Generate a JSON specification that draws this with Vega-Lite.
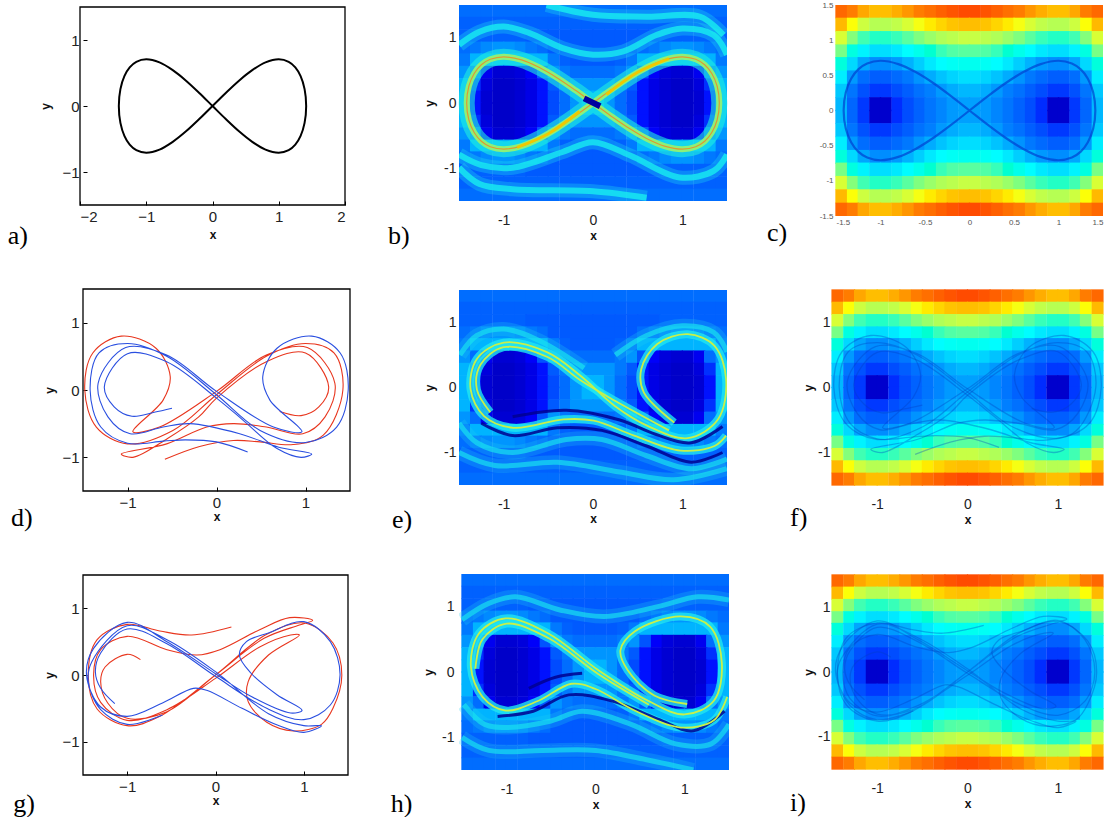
{"$schema":"https://vega.github.io/schema/vega-lite/v6.json","padding":{"left":7,"top":1,"right":0,"bottom":0},"background":"white","config":{"view":{"stroke":null},"axis":{"grid":false,"labelFont":"Liberation Sans","titleFont":"Liberation Sans","titleFontWeight":"bold","titleFontSize":12,"labelColor":"#222","titleColor":"#111"}},
"datasets":{
"grid":[
{"x":-1.44,"y":1.41,"h":0.92,"f":0.2},{"x":-1.31,"y":1.41,"h":0.86,"f":0.2},{"x":-1.19,"y":1.41,"h":0.78,"f":0.2},{"x":-1.06,"y":1.41,"h":0.74,"f":0.2},{"x":-0.94,"y":1.41,"h":0.74,"f":0.2},{"x":-0.81,"y":1.41,"h":0.77,"f":0.2},{"x":-0.69,"y":1.41,"h":0.81,"f":0.2},{"x":-0.56,"y":1.41,"h":0.86,"f":0.2},{"x":-0.44,"y":1.41,"h":0.9,"f":0.2},{"x":-0.31,"y":1.41,"h":0.94,"f":0.2},{"x":-0.19,"y":1.41,"h":0.97,"f":0.2},{"x":-0.06,"y":1.41,"h":0.99,"f":0.2},{"x":0.06,"y":1.41,"h":0.99,"f":0.2},{"x":0.19,"y":1.41,"h":0.97,"f":0.2},{"x":0.31,"y":1.41,"h":0.94,"f":0.2},{"x":0.44,"y":1.41,"h":0.9,"f":0.2},{"x":0.56,"y":1.41,"h":0.86,"f":0.2},{"x":0.69,"y":1.41,"h":0.81,"f":0.2},{"x":0.81,"y":1.41,"h":0.77,"f":0.2},{"x":0.94,"y":1.41,"h":0.74,"f":0.2},{"x":1.06,"y":1.41,"h":0.74,"f":0.2},{"x":1.19,"y":1.41,"h":0.78,"f":0.2},{"x":1.31,"y":1.41,"h":0.86,"f":0.2},{"x":1.44,"y":1.41,"h":0.92,"f":0.2},
{"x":-1.44,"y":1.22,"h":0.75,"f":0.18},{"x":-1.31,"y":1.22,"h":0.62,"f":0.18},{"x":-1.19,"y":1.22,"h":0.54,"f":0.18},{"x":-1.06,"y":1.22,"h":0.5,"f":0.18},{"x":-0.94,"y":1.22,"h":0.5,"f":0.18},{"x":-0.81,"y":1.22,"h":0.52,"f":0.18},{"x":-0.69,"y":1.22,"h":0.56,"f":0.18},{"x":-0.56,"y":1.22,"h":0.61,"f":0.18},{"x":-0.44,"y":1.22,"h":0.66,"f":0.18},{"x":-0.31,"y":1.22,"h":0.7,"f":0.18},{"x":-0.19,"y":1.22,"h":0.73,"f":0.18},{"x":-0.06,"y":1.22,"h":0.74,"f":0.18},{"x":0.06,"y":1.22,"h":0.74,"f":0.18},{"x":0.19,"y":1.22,"h":0.73,"f":0.18},{"x":0.31,"y":1.22,"h":0.7,"f":0.18},{"x":0.44,"y":1.22,"h":0.66,"f":0.18},{"x":0.56,"y":1.22,"h":0.61,"f":0.18},{"x":0.69,"y":1.22,"h":0.56,"f":0.18},{"x":0.81,"y":1.22,"h":0.52,"f":0.18},{"x":0.94,"y":1.22,"h":0.5,"f":0.18},{"x":1.06,"y":1.22,"h":0.5,"f":0.18},{"x":1.19,"y":1.22,"h":0.54,"f":0.18},{"x":1.31,"y":1.22,"h":0.62,"f":0.18},{"x":1.44,"y":1.22,"h":0.75,"f":0.18},
{"x":-1.44,"y":1.03,"h":0.56,"f":0.18},{"x":-1.31,"y":1.03,"h":0.41,"f":0.18},{"x":-1.19,"y":1.03,"h":0.32,"f":0.18},{"x":-1.06,"y":1.03,"h":0.29,"f":0.18},{"x":-0.94,"y":1.03,"h":0.29,"f":0.18},{"x":-0.81,"y":1.03,"h":0.31,"f":0.18},{"x":-0.69,"y":1.03,"h":0.35,"f":0.17},{"x":-0.56,"y":1.03,"h":0.4,"f":0.17},{"x":-0.44,"y":1.03,"h":0.45,"f":0.17},{"x":-0.31,"y":1.03,"h":0.49,"f":0.17},{"x":-0.19,"y":1.03,"h":0.51,"f":0.17},{"x":-0.06,"y":1.03,"h":0.53,"f":0.17},{"x":0.06,"y":1.03,"h":0.53,"f":0.17},{"x":0.19,"y":1.03,"h":0.51,"f":0.17},{"x":0.31,"y":1.03,"h":0.49,"f":0.17},{"x":0.44,"y":1.03,"h":0.45,"f":0.17},{"x":0.56,"y":1.03,"h":0.4,"f":0.17},{"x":0.69,"y":1.03,"h":0.35,"f":0.17},{"x":0.81,"y":1.03,"h":0.31,"f":0.18},{"x":0.94,"y":1.03,"h":0.29,"f":0.18},{"x":1.06,"y":1.03,"h":0.29,"f":0.18},{"x":1.19,"y":1.03,"h":0.32,"f":0.18},{"x":1.31,"y":1.03,"h":0.41,"f":0.18},{"x":1.44,"y":1.03,"h":0.56,"f":0.18},
{"x":-1.44,"y":0.84,"h":0.39,"f":0.2},{"x":-1.31,"y":0.84,"h":0.24,"f":0.22},{"x":-1.19,"y":0.84,"h":0.15,"f":0.24},{"x":-1.06,"y":0.84,"h":0.11,"f":0.25},{"x":-0.94,"y":0.84,"h":0.11,"f":0.25},{"x":-0.81,"y":0.84,"h":0.13,"f":0.24},{"x":-0.69,"y":0.84,"h":0.17,"f":0.22},{"x":-0.56,"y":0.84,"h":0.22,"f":0.2},{"x":-0.44,"y":0.84,"h":0.27,"f":0.17},{"x":-0.31,"y":0.84,"h":0.31,"f":0.17},{"x":-0.19,"y":0.84,"h":0.34,"f":0.17},{"x":-0.06,"y":0.84,"h":0.35,"f":0.17},{"x":0.06,"y":0.84,"h":0.35,"f":0.17},{"x":0.19,"y":0.84,"h":0.34,"f":0.17},{"x":0.31,"y":0.84,"h":0.31,"f":0.17},{"x":0.44,"y":0.84,"h":0.27,"f":0.17},{"x":0.56,"y":0.84,"h":0.22,"f":0.2},{"x":0.69,"y":0.84,"h":0.17,"f":0.22},{"x":0.81,"y":0.84,"h":0.13,"f":0.24},{"x":0.94,"y":0.84,"h":0.11,"f":0.25},{"x":1.06,"y":0.84,"h":0.11,"f":0.25},{"x":1.19,"y":0.84,"h":0.15,"f":0.24},{"x":1.31,"y":0.84,"h":0.24,"f":0.22},{"x":1.44,"y":0.84,"h":0.39,"f":0.2},
{"x":-1.44,"y":0.66,"h":0.25,"f":0.22},{"x":-1.31,"y":0.66,"h":0.1,"f":0.28},{"x":-1.19,"y":0.66,"h":0.01,"f":0.28},{"x":-1.06,"y":0.66,"h":-0.03,"f":0.28},{"x":-0.94,"y":0.66,"h":-0.03,"f":0.28},{"x":-0.81,"y":0.66,"h":-0.01,"f":0.28},{"x":-0.69,"y":0.66,"h":0.03,"f":0.28},{"x":-0.56,"y":0.66,"h":0.08,"f":0.28},{"x":-0.44,"y":0.66,"h":0.13,"f":0.22},{"x":-0.31,"y":0.66,"h":0.17,"f":0.18},{"x":-0.19,"y":0.66,"h":0.2,"f":0.17},{"x":-0.06,"y":0.66,"h":0.21,"f":0.17},{"x":0.06,"y":0.66,"h":0.21,"f":0.17},{"x":0.19,"y":0.66,"h":0.2,"f":0.17},{"x":0.31,"y":0.66,"h":0.17,"f":0.18},{"x":0.44,"y":0.66,"h":0.13,"f":0.22},{"x":0.56,"y":0.66,"h":0.08,"f":0.28},{"x":0.69,"y":0.66,"h":0.03,"f":0.28},{"x":0.81,"y":0.66,"h":-0.01,"f":0.28},{"x":0.94,"y":0.66,"h":-0.03,"f":0.28},{"x":1.06,"y":0.66,"h":-0.03,"f":0.28},{"x":1.19,"y":0.66,"h":0.01,"f":0.28},{"x":1.31,"y":0.66,"h":0.1,"f":0.28},{"x":1.44,"y":0.66,"h":0.25,"f":0.22},
{"x":-1.44,"y":0.47,"h":0.14,"f":0.25},{"x":-1.31,"y":0.47,"h":-0.01,"f":0.2},{"x":-1.19,"y":0.47,"h":-0.1,"f":0.08},{"x":-1.06,"y":0.47,"h":-0.14,"f":0.05},{"x":-0.94,"y":0.47,"h":-0.14,"f":0.05},{"x":-0.81,"y":0.47,"h":-0.11,"f":0.06},{"x":-0.69,"y":0.47,"h":-0.07,"f":0.09},{"x":-0.56,"y":0.47,"h":-0.02,"f":0.16},{"x":-0.44,"y":0.47,"h":0.02,"f":0.25},{"x":-0.31,"y":0.47,"h":0.06,"f":0.22},{"x":-0.19,"y":0.47,"h":0.09,"f":0.2},{"x":-0.06,"y":0.47,"h":0.11,"f":0.2},{"x":0.06,"y":0.47,"h":0.11,"f":0.2},{"x":0.19,"y":0.47,"h":0.09,"f":0.2},{"x":0.31,"y":0.47,"h":0.06,"f":0.22},{"x":0.44,"y":0.47,"h":0.02,"f":0.25},{"x":0.56,"y":0.47,"h":-0.02,"f":0.16},{"x":0.69,"y":0.47,"h":-0.07,"f":0.09},{"x":0.81,"y":0.47,"h":-0.11,"f":0.06},{"x":0.94,"y":0.47,"h":-0.14,"f":0.05},{"x":1.06,"y":0.47,"h":-0.14,"f":0.05},{"x":1.19,"y":0.47,"h":-0.1,"f":0.08},{"x":1.31,"y":0.47,"h":-0.01,"f":0.2},{"x":1.44,"y":0.47,"h":0.14,"f":0.25},
{"x":-1.44,"y":0.28,"h":0.07,"f":0.28},{"x":-1.31,"y":0.28,"h":-0.08,"f":0.12},{"x":-1.19,"y":0.28,"h":-0.17,"f":0.06},{"x":-1.06,"y":0.28,"h":-0.22,"f":0.04},{"x":-0.94,"y":0.28,"h":-0.22,"f":0.04},{"x":-0.81,"y":0.28,"h":-0.18,"f":0.05},{"x":-0.69,"y":0.28,"h":-0.14,"f":0.07},{"x":-0.56,"y":0.28,"h":-0.09,"f":0.1},{"x":-0.44,"y":0.28,"h":-0.05,"f":0.17},{"x":-0.31,"y":0.28,"h":-0.01,"f":0.22},{"x":-0.19,"y":0.28,"h":0.02,"f":0.25},{"x":-0.06,"y":0.28,"h":0.04,"f":0.25},{"x":0.06,"y":0.28,"h":0.04,"f":0.25},{"x":0.19,"y":0.28,"h":0.02,"f":0.25},{"x":0.31,"y":0.28,"h":-0.01,"f":0.22},{"x":0.44,"y":0.28,"h":-0.05,"f":0.17},{"x":0.56,"y":0.28,"h":-0.09,"f":0.1},{"x":0.69,"y":0.28,"h":-0.14,"f":0.07},{"x":0.81,"y":0.28,"h":-0.18,"f":0.05},{"x":0.94,"y":0.28,"h":-0.22,"f":0.04},{"x":1.06,"y":0.28,"h":-0.22,"f":0.04},{"x":1.19,"y":0.28,"h":-0.17,"f":0.06},{"x":1.31,"y":0.28,"h":-0.08,"f":0.12},{"x":1.44,"y":0.28,"h":0.07,"f":0.28},
{"x":-1.44,"y":0.09,"h":0.04,"f":0.28},{"x":-1.31,"y":0.09,"h":-0.12,"f":0.1},{"x":-1.19,"y":0.09,"h":-0.22,"f":0.05},{"x":-1.06,"y":0.09,"h":-0.36,"f":0.04},{"x":-0.94,"y":0.09,"h":-0.36,"f":0.04},{"x":-0.81,"y":0.09,"h":-0.24,"f":0.05},{"x":-0.69,"y":0.09,"h":-0.18,"f":0.07},{"x":-0.56,"y":0.09,"h":-0.13,"f":0.1},{"x":-0.44,"y":0.09,"h":-0.08,"f":0.15},{"x":-0.31,"y":0.09,"h":-0.04,"f":0.2},{"x":-0.19,"y":0.09,"h":-0.01,"f":0.25},{"x":-0.06,"y":0.09,"h":0,"f":0.28},{"x":0.06,"y":0.09,"h":0,"f":0.28},{"x":0.19,"y":0.09,"h":-0.01,"f":0.25},{"x":0.31,"y":0.09,"h":-0.04,"f":0.2},{"x":0.44,"y":0.09,"h":-0.08,"f":0.15},{"x":0.56,"y":0.09,"h":-0.13,"f":0.1},{"x":0.69,"y":0.09,"h":-0.18,"f":0.07},{"x":0.81,"y":0.09,"h":-0.24,"f":0.05},{"x":0.94,"y":0.09,"h":-0.36,"f":0.04},{"x":1.06,"y":0.09,"h":-0.36,"f":0.04},{"x":1.19,"y":0.09,"h":-0.22,"f":0.05},{"x":1.31,"y":0.09,"h":-0.12,"f":0.1},{"x":1.44,"y":0.09,"h":0.04,"f":0.28},
{"x":-1.44,"y":-0.09,"h":0.04,"f":0.28},{"x":-1.31,"y":-0.09,"h":-0.12,"f":0.1},{"x":-1.19,"y":-0.09,"h":-0.22,"f":0.05},{"x":-1.06,"y":-0.09,"h":-0.36,"f":0.04},{"x":-0.94,"y":-0.09,"h":-0.36,"f":0.04},{"x":-0.81,"y":-0.09,"h":-0.24,"f":0.05},{"x":-0.69,"y":-0.09,"h":-0.18,"f":0.07},{"x":-0.56,"y":-0.09,"h":-0.13,"f":0.1},{"x":-0.44,"y":-0.09,"h":-0.08,"f":0.15},{"x":-0.31,"y":-0.09,"h":-0.04,"f":0.2},{"x":-0.19,"y":-0.09,"h":-0.01,"f":0.25},{"x":-0.06,"y":-0.09,"h":0,"f":0.28},{"x":0.06,"y":-0.09,"h":0,"f":0.28},{"x":0.19,"y":-0.09,"h":-0.01,"f":0.25},{"x":0.31,"y":-0.09,"h":-0.04,"f":0.2},{"x":0.44,"y":-0.09,"h":-0.08,"f":0.15},{"x":0.56,"y":-0.09,"h":-0.13,"f":0.1},{"x":0.69,"y":-0.09,"h":-0.18,"f":0.07},{"x":0.81,"y":-0.09,"h":-0.24,"f":0.05},{"x":0.94,"y":-0.09,"h":-0.36,"f":0.04},{"x":1.06,"y":-0.09,"h":-0.36,"f":0.04},{"x":1.19,"y":-0.09,"h":-0.22,"f":0.05},{"x":1.31,"y":-0.09,"h":-0.12,"f":0.1},{"x":1.44,"y":-0.09,"h":0.04,"f":0.28},
{"x":-1.44,"y":-0.28,"h":0.07,"f":0.28},{"x":-1.31,"y":-0.28,"h":-0.08,"f":0.12},{"x":-1.19,"y":-0.28,"h":-0.17,"f":0.06},{"x":-1.06,"y":-0.28,"h":-0.22,"f":0.04},{"x":-0.94,"y":-0.28,"h":-0.22,"f":0.04},{"x":-0.81,"y":-0.28,"h":-0.18,"f":0.05},{"x":-0.69,"y":-0.28,"h":-0.14,"f":0.07},{"x":-0.56,"y":-0.28,"h":-0.09,"f":0.1},{"x":-0.44,"y":-0.28,"h":-0.05,"f":0.17},{"x":-0.31,"y":-0.28,"h":-0.01,"f":0.22},{"x":-0.19,"y":-0.28,"h":0.02,"f":0.25},{"x":-0.06,"y":-0.28,"h":0.04,"f":0.25},{"x":0.06,"y":-0.28,"h":0.04,"f":0.25},{"x":0.19,"y":-0.28,"h":0.02,"f":0.25},{"x":0.31,"y":-0.28,"h":-0.01,"f":0.22},{"x":0.44,"y":-0.28,"h":-0.05,"f":0.17},{"x":0.56,"y":-0.28,"h":-0.09,"f":0.1},{"x":0.69,"y":-0.28,"h":-0.14,"f":0.07},{"x":0.81,"y":-0.28,"h":-0.18,"f":0.05},{"x":0.94,"y":-0.28,"h":-0.22,"f":0.04},{"x":1.06,"y":-0.28,"h":-0.22,"f":0.04},{"x":1.19,"y":-0.28,"h":-0.17,"f":0.06},{"x":1.31,"y":-0.28,"h":-0.08,"f":0.12},{"x":1.44,"y":-0.28,"h":0.07,"f":0.28},
{"x":-1.44,"y":-0.47,"h":0.14,"f":0.25},{"x":-1.31,"y":-0.47,"h":-0.01,"f":0.2},{"x":-1.19,"y":-0.47,"h":-0.1,"f":0.08},{"x":-1.06,"y":-0.47,"h":-0.14,"f":0.05},{"x":-0.94,"y":-0.47,"h":-0.14,"f":0.05},{"x":-0.81,"y":-0.47,"h":-0.11,"f":0.06},{"x":-0.69,"y":-0.47,"h":-0.07,"f":0.09},{"x":-0.56,"y":-0.47,"h":-0.02,"f":0.16},{"x":-0.44,"y":-0.47,"h":0.02,"f":0.25},{"x":-0.31,"y":-0.47,"h":0.06,"f":0.22},{"x":-0.19,"y":-0.47,"h":0.09,"f":0.2},{"x":-0.06,"y":-0.47,"h":0.11,"f":0.2},{"x":0.06,"y":-0.47,"h":0.11,"f":0.2},{"x":0.19,"y":-0.47,"h":0.09,"f":0.2},{"x":0.31,"y":-0.47,"h":0.06,"f":0.22},{"x":0.44,"y":-0.47,"h":0.02,"f":0.25},{"x":0.56,"y":-0.47,"h":-0.02,"f":0.16},{"x":0.69,"y":-0.47,"h":-0.07,"f":0.09},{"x":0.81,"y":-0.47,"h":-0.11,"f":0.06},{"x":0.94,"y":-0.47,"h":-0.14,"f":0.05},{"x":1.06,"y":-0.47,"h":-0.14,"f":0.05},{"x":1.19,"y":-0.47,"h":-0.1,"f":0.08},{"x":1.31,"y":-0.47,"h":-0.01,"f":0.2},{"x":1.44,"y":-0.47,"h":0.14,"f":0.25},
{"x":-1.44,"y":-0.66,"h":0.25,"f":0.22},{"x":-1.31,"y":-0.66,"h":0.1,"f":0.28},{"x":-1.19,"y":-0.66,"h":0.01,"f":0.28},{"x":-1.06,"y":-0.66,"h":-0.03,"f":0.28},{"x":-0.94,"y":-0.66,"h":-0.03,"f":0.28},{"x":-0.81,"y":-0.66,"h":-0.01,"f":0.28},{"x":-0.69,"y":-0.66,"h":0.03,"f":0.28},{"x":-0.56,"y":-0.66,"h":0.08,"f":0.28},{"x":-0.44,"y":-0.66,"h":0.13,"f":0.22},{"x":-0.31,"y":-0.66,"h":0.17,"f":0.18},{"x":-0.19,"y":-0.66,"h":0.2,"f":0.17},{"x":-0.06,"y":-0.66,"h":0.21,"f":0.17},{"x":0.06,"y":-0.66,"h":0.21,"f":0.17},{"x":0.19,"y":-0.66,"h":0.2,"f":0.17},{"x":0.31,"y":-0.66,"h":0.17,"f":0.18},{"x":0.44,"y":-0.66,"h":0.13,"f":0.22},{"x":0.56,"y":-0.66,"h":0.08,"f":0.28},{"x":0.69,"y":-0.66,"h":0.03,"f":0.28},{"x":0.81,"y":-0.66,"h":-0.01,"f":0.28},{"x":0.94,"y":-0.66,"h":-0.03,"f":0.28},{"x":1.06,"y":-0.66,"h":-0.03,"f":0.28},{"x":1.19,"y":-0.66,"h":0.01,"f":0.28},{"x":1.31,"y":-0.66,"h":0.1,"f":0.28},{"x":1.44,"y":-0.66,"h":0.25,"f":0.22},
{"x":-1.44,"y":-0.84,"h":0.39,"f":0.2},{"x":-1.31,"y":-0.84,"h":0.24,"f":0.22},{"x":-1.19,"y":-0.84,"h":0.15,"f":0.24},{"x":-1.06,"y":-0.84,"h":0.11,"f":0.25},{"x":-0.94,"y":-0.84,"h":0.11,"f":0.25},{"x":-0.81,"y":-0.84,"h":0.13,"f":0.24},{"x":-0.69,"y":-0.84,"h":0.17,"f":0.22},{"x":-0.56,"y":-0.84,"h":0.22,"f":0.2},{"x":-0.44,"y":-0.84,"h":0.27,"f":0.17},{"x":-0.31,"y":-0.84,"h":0.31,"f":0.17},{"x":-0.19,"y":-0.84,"h":0.34,"f":0.17},{"x":-0.06,"y":-0.84,"h":0.35,"f":0.17},{"x":0.06,"y":-0.84,"h":0.35,"f":0.17},{"x":0.19,"y":-0.84,"h":0.34,"f":0.17},{"x":0.31,"y":-0.84,"h":0.31,"f":0.17},{"x":0.44,"y":-0.84,"h":0.27,"f":0.17},{"x":0.56,"y":-0.84,"h":0.22,"f":0.2},{"x":0.69,"y":-0.84,"h":0.17,"f":0.22},{"x":0.81,"y":-0.84,"h":0.13,"f":0.24},{"x":0.94,"y":-0.84,"h":0.11,"f":0.25},{"x":1.06,"y":-0.84,"h":0.11,"f":0.25},{"x":1.19,"y":-0.84,"h":0.15,"f":0.24},{"x":1.31,"y":-0.84,"h":0.24,"f":0.22},{"x":1.44,"y":-0.84,"h":0.39,"f":0.2},
{"x":-1.44,"y":-1.03,"h":0.56,"f":0.18},{"x":-1.31,"y":-1.03,"h":0.41,"f":0.18},{"x":-1.19,"y":-1.03,"h":0.32,"f":0.18},{"x":-1.06,"y":-1.03,"h":0.29,"f":0.18},{"x":-0.94,"y":-1.03,"h":0.29,"f":0.18},{"x":-0.81,"y":-1.03,"h":0.31,"f":0.18},{"x":-0.69,"y":-1.03,"h":0.35,"f":0.17},{"x":-0.56,"y":-1.03,"h":0.4,"f":0.17},{"x":-0.44,"y":-1.03,"h":0.45,"f":0.17},{"x":-0.31,"y":-1.03,"h":0.49,"f":0.17},{"x":-0.19,"y":-1.03,"h":0.51,"f":0.17},{"x":-0.06,"y":-1.03,"h":0.53,"f":0.17},{"x":0.06,"y":-1.03,"h":0.53,"f":0.17},{"x":0.19,"y":-1.03,"h":0.51,"f":0.17},{"x":0.31,"y":-1.03,"h":0.49,"f":0.17},{"x":0.44,"y":-1.03,"h":0.45,"f":0.17},{"x":0.56,"y":-1.03,"h":0.4,"f":0.17},{"x":0.69,"y":-1.03,"h":0.35,"f":0.17},{"x":0.81,"y":-1.03,"h":0.31,"f":0.18},{"x":0.94,"y":-1.03,"h":0.29,"f":0.18},{"x":1.06,"y":-1.03,"h":0.29,"f":0.18},{"x":1.19,"y":-1.03,"h":0.32,"f":0.18},{"x":1.31,"y":-1.03,"h":0.41,"f":0.18},{"x":1.44,"y":-1.03,"h":0.56,"f":0.18},
{"x":-1.44,"y":-1.22,"h":0.75,"f":0.18},{"x":-1.31,"y":-1.22,"h":0.62,"f":0.18},{"x":-1.19,"y":-1.22,"h":0.54,"f":0.18},{"x":-1.06,"y":-1.22,"h":0.5,"f":0.18},{"x":-0.94,"y":-1.22,"h":0.5,"f":0.18},{"x":-0.81,"y":-1.22,"h":0.52,"f":0.18},{"x":-0.69,"y":-1.22,"h":0.56,"f":0.18},{"x":-0.56,"y":-1.22,"h":0.61,"f":0.18},{"x":-0.44,"y":-1.22,"h":0.66,"f":0.18},{"x":-0.31,"y":-1.22,"h":0.7,"f":0.18},{"x":-0.19,"y":-1.22,"h":0.73,"f":0.18},{"x":-0.06,"y":-1.22,"h":0.74,"f":0.18},{"x":0.06,"y":-1.22,"h":0.74,"f":0.18},{"x":0.19,"y":-1.22,"h":0.73,"f":0.18},{"x":0.31,"y":-1.22,"h":0.7,"f":0.18},{"x":0.44,"y":-1.22,"h":0.66,"f":0.18},{"x":0.56,"y":-1.22,"h":0.61,"f":0.18},{"x":0.69,"y":-1.22,"h":0.56,"f":0.18},{"x":0.81,"y":-1.22,"h":0.52,"f":0.18},{"x":0.94,"y":-1.22,"h":0.5,"f":0.18},{"x":1.06,"y":-1.22,"h":0.5,"f":0.18},{"x":1.19,"y":-1.22,"h":0.54,"f":0.18},{"x":1.31,"y":-1.22,"h":0.62,"f":0.18},{"x":1.44,"y":-1.22,"h":0.75,"f":0.18},
{"x":-1.44,"y":-1.41,"h":0.92,"f":0.2},{"x":-1.31,"y":-1.41,"h":0.86,"f":0.2},{"x":-1.19,"y":-1.41,"h":0.78,"f":0.2},{"x":-1.06,"y":-1.41,"h":0.74,"f":0.2},{"x":-0.94,"y":-1.41,"h":0.74,"f":0.2},{"x":-0.81,"y":-1.41,"h":0.77,"f":0.2},{"x":-0.69,"y":-1.41,"h":0.81,"f":0.2},{"x":-0.56,"y":-1.41,"h":0.86,"f":0.2},{"x":-0.44,"y":-1.41,"h":0.9,"f":0.2},{"x":-0.31,"y":-1.41,"h":0.94,"f":0.2},{"x":-0.19,"y":-1.41,"h":0.97,"f":0.2},{"x":-0.06,"y":-1.41,"h":0.99,"f":0.2},{"x":0.06,"y":-1.41,"h":0.99,"f":0.2},{"x":0.19,"y":-1.41,"h":0.97,"f":0.2},{"x":0.31,"y":-1.41,"h":0.94,"f":0.2},{"x":0.44,"y":-1.41,"h":0.9,"f":0.2},{"x":0.56,"y":-1.41,"h":0.86,"f":0.2},{"x":0.69,"y":-1.41,"h":0.81,"f":0.2},{"x":0.81,"y":-1.41,"h":0.77,"f":0.2},{"x":0.94,"y":-1.41,"h":0.74,"f":0.2},{"x":1.06,"y":-1.41,"h":0.74,"f":0.2},{"x":1.19,"y":-1.41,"h":0.78,"f":0.2},{"x":1.31,"y":-1.41,"h":0.86,"f":0.2},{"x":1.44,"y":-1.41,"h":0.92,"f":0.2}],
"eight":[{"x":0,"y":0},{"x":0.2,"y":0.198},{"x":0.4,"y":0.384},{"x":0.6,"y":0.543},{"x":0.8,"y":0.66},{"x":1,"y":0.707},{"x":1.15,"y":0.669},{"x":1.25,"y":0.585},{"x":1.33,"y":0.452},{"x":1.39,"y":0.256},{"x":1.414,"y":0},{"x":1.39,"y":-0.256},{"x":1.33,"y":-0.452},{"x":1.25,"y":-0.585},{"x":1.15,"y":-0.669},{"x":1,"y":-0.707},{"x":0.8,"y":-0.66},{"x":0.6,"y":-0.543},{"x":0.4,"y":-0.384},{"x":0.2,"y":-0.198},{"x":0,"y":0},{"x":-0.2,"y":0.198},{"x":-0.4,"y":0.384},{"x":-0.6,"y":0.543},{"x":-0.8,"y":0.66},{"x":-1,"y":0.707},{"x":-1.15,"y":0.669},{"x":-1.25,"y":0.585},{"x":-1.33,"y":0.452},{"x":-1.39,"y":0.256},{"x":-1.414,"y":0},{"x":-1.39,"y":-0.256},{"x":-1.33,"y":-0.452},{"x":-1.25,"y":-0.585},{"x":-1.15,"y":-0.669},{"x":-1,"y":-0.707},{"x":-0.8,"y":-0.66},{"x":-0.6,"y":-0.543},{"x":-0.4,"y":-0.384},{"x":-0.2,"y":-0.198},{"x":0,"y":0}],
"dr":[{"x":-0.58,"y":-1.03},{"x":-0.19,"y":-0.84},{"x":0.19,"y":-0.75},{"x":0.49,"y":-0.77},{"x":0.86,"y":-0.81},{"x":1.2,"y":-0.67},{"x":1.42,"y":0},{"x":1.32,"y":0.55},{"x":1,"y":0.69},{"x":0.56,"y":0.5},{"x":0,"y":-0.07},{"x":-0.49,"y":-0.6},{"x":-1,"y":-0.8},{"x":-1.35,"y":-0.55},{"x":-1.48,"y":0},{"x":-1.39,"y":0.55},{"x":-1.07,"y":0.8},{"x":-0.68,"y":0.62},{"x":-0.52,"y":0.2},{"x":-0.6,"y":-0.15},{"x":-0.94,"y":-0.62},{"x":-0.64,"y":-0.55},{"x":0,"y":-0.02},{"x":0.56,"y":0.52},{"x":1.02,"y":0.63},{"x":1.33,"y":0.1},{"x":1.22,"y":-0.4},{"x":0.97,"y":-0.65},{"x":0.56,"y":-0.55},{"x":0.19,"y":-0.5},{"x":-0.11,"y":-0.55},{"x":-0.56,"y":-0.8},{"x":-1.07,"y":-0.95},{"x":-0.94,"y":-1},{"x":-0.55,"y":-0.72},{"x":-0.2,"y":-0.4},{"x":0,"y":-0.12},{"x":0.56,"y":0.42},{"x":1,"y":0.55},{"x":1.26,"y":0.05},{"x":1.15,"y":-0.25},{"x":0.95,"y":-0.38},{"x":0.71,"y":-0.32}],
"db":[{"x":0.35,"y":-0.92},{"x":0,"y":-0.77},{"x":-0.35,"y":-0.74},{"x":-0.6,"y":-0.76},{"x":-1,"y":-0.79},{"x":-1.3,"y":-0.55},{"x":-1.42,"y":0},{"x":-1.32,"y":0.55},{"x":-1,"y":0.69},{"x":-0.56,"y":0.5},{"x":0,"y":-0.07},{"x":0.49,"y":-0.6},{"x":1,"y":-0.78},{"x":1.35,"y":-0.55},{"x":1.48,"y":0},{"x":1.39,"y":0.55},{"x":1.07,"y":0.8},{"x":0.68,"y":0.62},{"x":0.52,"y":0.2},{"x":0.6,"y":-0.15},{"x":0.96,"y":-0.62},{"x":0.64,"y":-0.55},{"x":0,"y":-0.02},{"x":-0.56,"y":0.52},{"x":-1.02,"y":0.63},{"x":-1.33,"y":0.1},{"x":-1.22,"y":-0.4},{"x":-0.97,"y":-0.65},{"x":-0.6,"y":-0.55},{"x":-0.3,"y":-0.5},{"x":0.26,"y":-0.65},{"x":0.7,"y":-0.85},{"x":1.07,"y":-0.95},{"x":0.95,"y":-1},{"x":0.68,"y":-0.87},{"x":0.3,"y":-0.45},{"x":0,"y":-0.12},{"x":-0.56,"y":0.42},{"x":-1,"y":0.54},{"x":-1.26,"y":0.05},{"x":-1.15,"y":-0.25},{"x":-0.95,"y":-0.39},{"x":-0.7,"y":-0.33},{"x":-0.5,"y":-0.27}],
"gr":[{"x":0.18,"y":0.72},{"x":-0.27,"y":0.6},{"x":-0.63,"y":0.66},{"x":-1,"y":0.76},{"x":-1.34,"y":0.53},{"x":-1.44,"y":-0.02},{"x":-1.34,"y":-0.51},{"x":-1,"y":-0.76},{"x":-0.63,"y":-0.62},{"x":0,"y":0},{"x":0.58,"y":0.61},{"x":1.01,"y":0.78},{"x":1.33,"y":0.48},{"x":1.43,"y":0},{"x":1.33,"y":-0.5},{"x":1.2,"y":-0.74},{"x":0.88,"y":-0.84},{"x":0.58,"y":-0.71},{"x":0.37,"y":-0.4},{"x":0.37,"y":-0.1},{"x":0.6,"y":0.3},{"x":0.95,"y":0.6},{"x":0.85,"y":0.6},{"x":0.5,"y":0.42},{"x":0,"y":-0.05},{"x":-0.55,"y":-0.52},{"x":-1,"y":-0.68},{"x":-1.3,"y":-0.41},{"x":-1.38,"y":0},{"x":-1.3,"y":0.38},{"x":-1,"y":0.58},{"x":-0.55,"y":0.38},{"x":-0.21,"y":0.3},{"x":0.05,"y":0.38},{"x":0.5,"y":0.68},{"x":0.84,"y":0.86},{"x":1.1,"y":0.82},{"x":0.95,"y":0.75},{"x":0.55,"y":0.55},{"x":0,"y":0},{"x":-0.55,"y":-0.55},{"x":-1,"y":-0.65},{"x":-1.22,"y":-0.42},{"x":-1.3,"y":-0.1},{"x":-1.25,"y":0.12},{"x":-1,"y":0.31},{"x":-0.85,"y":0.23}],
"gb":[{"x":-1.14,"y":-0.43},{"x":-1.3,"y":-0.2},{"x":-1.36,"y":0.05},{"x":-1.3,"y":0.33},{"x":-1,"y":0.69},{"x":-0.55,"y":0.47},{"x":0,"y":-0.02},{"x":0.58,"y":-0.5},{"x":1,"y":-0.67},{"x":1.3,"y":-0.45},{"x":1.41,"y":0},{"x":1.3,"y":0.5},{"x":1,"y":0.8},{"x":0.6,"y":0.63},{"x":0.35,"y":0.5},{"x":0.27,"y":0.3},{"x":0.4,"y":0.03},{"x":0.7,"y":-0.3},{"x":0.98,"y":-0.53},{"x":0.85,"y":-0.57},{"x":0.4,"y":-0.32},{"x":0,"y":0.02},{"x":-0.55,"y":0.5},{"x":-1,"y":0.79},{"x":-1.38,"y":0.4},{"x":-1.46,"y":0},{"x":-1.3,"y":-0.48},{"x":-1,"y":-0.62},{"x":-0.6,"y":-0.42},{"x":-0.25,"y":-0.2},{"x":-0.1,"y":-0.23},{"x":0.3,"y":-0.5},{"x":0.7,"y":-0.75},{"x":1,"y":-0.86},{"x":1.2,"y":-0.76},{"x":1,"y":-0.76},{"x":0.6,"y":-0.58},{"x":0,"y":0.05},{"x":-0.55,"y":0.53},{"x":-1,"y":0.74},{"x":-1.4,"y":0.2},{"x":-1.44,"y":-0.1},{"x":-1.3,"y":-0.52},{"x":-1,"y":-0.74},{"x":-0.6,"y":-0.6}],
"bb":[{"s":1,"x":-1.5,"y":0.89},{"s":1,"x":-1.27,"y":1.09},{"s":1,"x":-1,"y":1.17},{"s":1,"x":-0.71,"y":1.07},{"s":1,"x":-0.34,"y":0.84},{"s":1,"x":0,"y":0.74},{"s":1,"x":0.34,"y":0.79},{"s":1,"x":0.71,"y":1.04},{"s":1,"x":1,"y":1.14},{"s":1,"x":1.35,"y":1.04},{"s":1,"x":1.5,"y":0.74},
{"s":2,"x":-0.52,"y":1.5},{"s":2,"x":0,"y":1.35},{"s":2,"x":0.6,"y":1.32},{"s":2,"x":1.2,"y":1.32},{"s":2,"x":1.46,"y":1.04},
{"s":3,"x":-1.5,"y":-0.79},{"s":3,"x":-1.25,"y":-0.95},{"s":3,"x":-0.9,"y":-0.99},{"s":3,"x":-0.34,"y":-0.75},{"s":3,"x":0,"y":-0.6},{"s":3,"x":0.41,"y":-0.8},{"s":3,"x":0.97,"y":-1.14},{"s":3,"x":1.35,"y":-1.04},{"s":3,"x":1.5,"y":-0.79},
{"s":4,"x":-1.5,"y":-0.99},{"s":4,"x":-1.27,"y":-1.24},{"s":4,"x":-0.9,"y":-1.32},{"s":4,"x":0,"y":-1.35},{"s":4,"x":0.6,"y":-1.45}],
"by":[{"s":1,"x":0.15,"y":0.13},{"s":1,"x":0.5,"y":0.47},{"s":1,"x":0.85,"y":0.68},{"s":2,"x":-0.15,"y":-0.13},{"s":2,"x":-0.5,"y":-0.47},{"s":2,"x":-0.85,"y":-0.68}],
"bd":[{"x":-0.1,"y":0.07},{"x":0.08,"y":-0.05}],
"eb":[{"s":1,"x":-1.49,"y":0.5},{"s":1,"x":-1.3,"y":0.8},{"s":1,"x":-1,"y":0.9},{"s":1,"x":-0.6,"y":0.72},{"s":1,"x":-0.1,"y":0.3},{"s":2,"x":0.25,"y":0.5},{"s":2,"x":0.6,"y":0.8},{"s":2,"x":1,"y":0.95},{"s":2,"x":1.35,"y":0.85},{"s":2,"x":1.5,"y":0.55},{"s":3,"x":-1.5,"y":-0.55},{"s":3,"x":-1.3,"y":-0.85},{"s":3,"x":-0.9,"y":-1},{"s":3,"x":-0.3,"y":-0.8},{"s":3,"x":0.1,"y":-0.8},{"s":3,"x":0.6,"y":-1.05},{"s":3,"x":1.1,"y":-1.25},{"s":3,"x":1.5,"y":-1.1},{"s":4,"x":-1.5,"y":-1},{"s":4,"x":-1.1,"y":-1.2},{"s":4,"x":-0.4,"y":-1.15},{"s":4,"x":0.3,"y":-1.3},{"s":4,"x":0.9,"y":-1.42},{"s":4,"x":1.5,"y":-1.25}],
"er":[{"s":1,"x":0.91,"y":-0.54},{"s":1,"x":0.57,"y":-0.08},{"s":1,"x":0.54,"y":0.28},{"s":1,"x":0.72,"y":0.67},{"s":1,"x":1.06,"y":0.82},{"s":1,"x":1.36,"y":0.64},{"s":1,"x":1.49,"y":0.13},{"s":1,"x":1.4,"y":-0.49},{"s":1,"x":1.06,"y":-0.78},{"s":1,"x":0.61,"y":-0.59},{"s":1,"x":0.24,"y":-0.28},{"s":1,"x":-0.14,"y":0.18},{"s":1,"x":-0.51,"y":0.54},{"s":1,"x":-1,"y":0.69},{"s":1,"x":-1.3,"y":0.44},{"s":1,"x":-1.37,"y":-0.03},{"s":1,"x":-1.22,"y":-0.44},{"s":1,"x":-0.89,"y":-0.62},{"s":1,"x":-0.33,"y":-0.49},{"s":1,"x":0.01,"y":-0.51},{"s":1,"x":0.46,"y":-0.74},{"s":1,"x":0.98,"y":-0.97},{"s":1,"x":1.36,"y":-0.9},{"s":1,"x":1.49,"y":-0.74},
{"s":2,"x":0.85,"y":-0.66},{"s":2,"x":0.24,"y":-0.2},{"s":2,"x":-0.14,"y":0.11},{"s":2,"x":-0.51,"y":0.47},{"s":2,"x":-1,"y":0.62},{"s":2,"x":-1.26,"y":0.35},{"s":2,"x":-1.3,"y":-0.03},{"s":2,"x":-1.15,"y":-0.38}],
"ed":[{"s":1,"x":-1.25,"y":-0.55},{"s":1,"x":-0.9,"y":-0.74},{"s":1,"x":-0.4,"y":-0.62},{"s":1,"x":0.1,"y":-0.66},{"s":1,"x":0.6,"y":-0.9},{"s":1,"x":1.1,"y":-1.15},{"s":1,"x":1.45,"y":-1},{"s":2,"x":-0.9,"y":-0.45},{"s":2,"x":-0.3,"y":-0.35},{"s":2,"x":0.3,"y":-0.5},{"s":2,"x":0.7,"y":-0.72},{"s":2,"x":1.1,"y":-0.85},{"s":2,"x":1.45,"y":-0.6}],
"hb":[{"s":1,"x":-1.5,"y":0.8},{"s":1,"x":-1.2,"y":1.05},{"s":1,"x":-0.9,"y":1.15},{"s":1,"x":-0.4,"y":0.95},{"s":1,"x":0.1,"y":0.85},{"s":1,"x":0.7,"y":1},{"s":1,"x":1.15,"y":1.15},{"s":1,"x":1.5,"y":1.1},{"s":2,"x":-1.48,"y":-0.5},{"s":2,"x":-1.25,"y":-0.8},{"s":2,"x":-1,"y":-0.85},{"s":2,"x":-0.5,"y":-0.75},{"s":2,"x":-0.15,"y":-0.6},{"s":2,"x":0.4,"y":-0.8},{"s":2,"x":0.9,"y":-1.1},{"s":2,"x":1.3,"y":-1.1},{"s":2,"x":1.5,"y":-0.8},{"s":3,"x":-1.5,"y":-1},{"s":3,"x":-1.2,"y":-1.2},{"s":3,"x":-0.6,"y":-1.2},{"s":3,"x":0,"y":-1.2},{"s":3,"x":0.6,"y":-1.35},{"s":3,"x":1.1,"y":-1.5}],
"hr":[{"s":1,"x":1.03,"y":-0.49},{"s":1,"x":0.66,"y":-0.36},{"s":1,"x":0.36,"y":0.03},{"s":1,"x":0.28,"y":0.33},{"s":1,"x":0.44,"y":0.62},{"s":1,"x":0.96,"y":0.85},{"s":1,"x":1.29,"y":0.69},{"s":1,"x":1.42,"y":0.13},{"s":1,"x":1.33,"y":-0.44},{"s":1,"x":1,"y":-0.65},{"s":1,"x":0.59,"y":-0.44},{"s":1,"x":0.03,"y":0.03},{"s":1,"x":-0.53,"y":0.59},{"s":1,"x":-1.01,"y":0.82},{"s":1,"x":-1.31,"y":0.59},{"s":1,"x":-1.4,"y":0.08},{"s":1,"x":-1.27,"y":-0.38},{"s":1,"x":-1.01,"y":-0.59},{"s":1,"x":-0.64,"y":-0.44},{"s":1,"x":-0.27,"y":-0.18},{"s":1,"x":0,"y":-0.26},{"s":1,"x":0.44,"y":-0.59},{"s":1,"x":0.96,"y":-0.85},{"s":1,"x":1.33,"y":-0.74},{"s":1,"x":1.48,"y":-0.38},{"s":2,"x":-1.35,"y":0.05},{"s":2,"x":-1.27,"y":0.5},{"s":2,"x":-1,"y":0.74},{"s":2,"x":-0.53,"y":0.52},{"s":2,"x":0.03,"y":-0.03},{"s":2,"x":0.6,"y":-0.5}],
"hd":[{"s":1,"x":-1.1,"y":-0.68},{"s":1,"x":-0.7,"y":-0.6},{"s":1,"x":-0.3,"y":-0.35},{"s":1,"x":0.2,"y":-0.45},{"s":1,"x":0.7,"y":-0.72},{"s":1,"x":1.1,"y":-0.9},{"s":1,"x":1.45,"y":-0.6},{"s":2,"x":-0.75,"y":-0.25},{"s":2,"x":-0.45,"y":-0.08},{"s":2,"x":-0.15,"y":-0.02}]
},
"hconcat":[
{"vconcat":[
{"width":267,"height":200,"encoding":{"x":{"field":"x","type":"quantitative","title":"x","scale":{"domain":[-2,2],"range":[-3,262]},"axis":{"values":[-2,-1,0,1,2],"domain":false,"tickSize":-4,"labelPadding":8,"labelFontSize":15,"tickColor":"#000","titlePadding":5}},"y":{"field":"y","type":"quantitative","title":"y","scale":{"domain":[-1.5,1.5],"range":[200,2]},"axis":{"values":[-1,0,1],"domain":false,"tickSize":-4,"labelPadding":8,"labelFontSize":15,"tickColor":"#000","titlePadding":9}}},
"layer":[{"data":{"values":[{"x":-2,"y":-1.5,"x2":2,"y2":1.5}]},"mark":{"type":"rect","fillOpacity":0,"stroke":"#000","strokeWidth":1.3},"encoding":{"x2":{"field":"x2"},"y2":{"field":"y2"}}},{"data":{"name":"eight"},"mark":{"type":"line","stroke":"#000","strokeWidth":2,"interpolate":"catmull-rom"},"encoding":{"order":{"value":null}}},{"data":{"values":[{"x":-3.09,"y":-1.97,"t":"a)"}]},"mark":{"type":"text","align":"left","baseline":"middle","font":"Liberation Serif","fontSize":26},"encoding":{"text":{"field":"t"}}}]},
{"width":267,"height":202,"encoding":{"x":{"field":"x","type":"quantitative","title":"x","scale":{"domain":[-1.5,1.5],"range":[0,267]},"axis":{"values":[-1,0,1],"domain":false,"tickSize":-4,"labelPadding":8,"labelFontSize":15,"tickColor":"#000","titlePadding":1}},"y":{"field":"y","type":"quantitative","title":"y","scale":{"domain":[-1.5,1.5],"range":[202,0]},"axis":{"values":[-1,0,1],"domain":false,"tickSize":-4,"labelPadding":8,"labelFontSize":15,"tickColor":"#000","titlePadding":5}}},
"layer":[{"data":{"values":[{"x":-1.5,"y":-1.5,"x2":1.5,"y2":1.5}]},"mark":{"type":"rect","fillOpacity":0,"stroke":"#000","strokeWidth":1.3},"encoding":{"x2":{"field":"x2"},"y2":{"field":"y2"}}},{"data":{"name":"dr"},"mark":{"type":"line","stroke":"#e8361e","strokeWidth":1.1,"interpolate":"catmull-rom"},"encoding":{"order":{"value":null}}},{"data":{"name":"db"},"mark":{"type":"line","stroke":"#2a4fe0","strokeWidth":1.1,"interpolate":"catmull-rom"},"encoding":{"order":{"value":null}}},{"data":{"values":[{"x":-2.31,"y":-1.9,"t":"d)"}]},"mark":{"type":"text","align":"left","baseline":"middle","font":"Liberation Serif","fontSize":26},"encoding":{"text":{"field":"t"}}}]},
{"width":267,"height":200,"encoding":{"x":{"field":"x","type":"quantitative","title":"x","scale":{"domain":[-1.5,1.5],"range":[0,265]},"axis":{"values":[-1,0,1],"domain":false,"tickSize":-4,"labelPadding":8,"labelFontSize":15,"tickColor":"#000","titlePadding":1}},"y":{"field":"y","type":"quantitative","title":"y","scale":{"domain":[-1.5,1.5],"range":[200,0]},"axis":{"values":[-1,0,1],"domain":false,"tickSize":-4,"labelPadding":8,"labelFontSize":15,"tickColor":"#000","titlePadding":5}}},
"layer":[{"data":{"values":[{"x":-1.5,"y":-1.5,"x2":1.5,"y2":1.5}]},"mark":{"type":"rect","fillOpacity":0,"stroke":"#000","strokeWidth":1.3},"encoding":{"x2":{"field":"x2"},"y2":{"field":"y2"}}},{"data":{"name":"gr"},"mark":{"type":"line","stroke":"#e8361e","strokeWidth":1.1,"interpolate":"catmull-rom"},"encoding":{"order":{"value":null}}},{"data":{"name":"gb"},"mark":{"type":"line","stroke":"#2a4fe0","strokeWidth":1.1,"interpolate":"catmull-rom"},"encoding":{"order":{"value":null}}},{"data":{"values":[{"x":-2.29,"y":-1.93,"t":"g)"}]},"mark":{"type":"text","align":"left","baseline":"middle","font":"Liberation Serif","fontSize":26},"encoding":{"text":{"field":"t"}}}]}
],"bounds":"flush","spacing":84},
{"vconcat":[
{"width":268,"height":196,"encoding":{"x":{"field":"x","type":"quantitative","title":"x","scale":{"domain":[-1.5,1.5],"range":[0,268]},"axis":{"values":[-1,0,1],"domain":false,"ticks":false,"labelPadding":12,"labelFontSize":14,"labelExpr":"replace(datum.label,'−','-')","titlePadding":3}},"y":{"field":"y","type":"quantitative","title":"y","scale":{"domain":[-1.5,1.5],"range":[196,0]},"axis":{"values":[-1,0,1],"domain":false,"ticks":false,"labelPadding":3,"labelFontSize":14,"labelExpr":"replace(datum.label,'−','-')","titlePadding":7}}},
"layer":[{"data":{"name":"grid"},"mark":{"type":"rect","width":12,"height":13,"clip":true},"encoding":{"fill":{"field":"f","type":"quantitative","legend":null,"scale":{"domain":[-0.04,0.1,0.25,0.375,0.5,0.625,0.75,0.875,1],"range":["#00007f","#0000ff","#007fff","#00ffff","#7fff7f","#ffff00","#ff7f00","#ff0000","#7f0000"]}}}},
{"data":{"name":"bb"},"mark":{"type":"line","stroke":"#20e6f0","strokeWidth":14,"opacity":0.3,"interpolate":"catmull-rom","clip":true},"encoding":{"detail":{"field":"s"},"order":{"value":null}}},
{"data":{"name":"bb"},"mark":{"type":"line","stroke":"#18eef0","strokeWidth":6,"opacity":0.8,"interpolate":"catmull-rom","clip":true},"encoding":{"detail":{"field":"s"},"order":{"value":null}}},
{"data":{"name":"eight"},"mark":{"type":"line","stroke":"#20eee0","strokeWidth":16,"opacity":0.6,"interpolate":"catmull-rom"},"encoding":{"order":{"value":null}}},
{"data":{"name":"eight"},"mark":{"type":"line","stroke":"#8cf07a","strokeWidth":6,"interpolate":"catmull-rom"},"encoding":{"order":{"value":null}}},
{"data":{"name":"eight"},"mark":{"type":"line","stroke":"#e09a30","strokeWidth":1.2,"interpolate":"catmull-rom"},"encoding":{"order":{"value":null}}},
{"data":{"name":"by"},"mark":{"type":"line","stroke":"#f0c800","strokeWidth":3,"interpolate":"catmull-rom"},"encoding":{"detail":{"field":"s"},"order":{"value":null}}},
{"data":{"name":"bd"},"mark":{"type":"line","stroke":"#0000a0","strokeWidth":6},"encoding":{"order":{"value":null}}},
{"data":{"values":[{"x":-2.295,"y":-2.036,"t":"b)"}]},"mark":{"type":"text","align":"left","baseline":"middle","font":"Liberation Serif","fontSize":26},"encoding":{"text":{"field":"t"}}}]},
{"width":268,"height":195,"encoding":{"x":{"field":"x","type":"quantitative","title":"x","scale":{"domain":[-1.5,1.5],"range":[0,268]},"axis":{"values":[-1,0,1],"domain":false,"ticks":false,"labelPadding":12,"labelFontSize":14,"labelExpr":"replace(datum.label,'−','-')","titlePadding":2}},"y":{"field":"y","type":"quantitative","title":"y","scale":{"domain":[-1.5,1.5],"range":[195,0]},"axis":{"values":[-1,0,1],"domain":false,"ticks":false,"labelPadding":3,"labelFontSize":14,"labelExpr":"replace(datum.label,'−','-')","titlePadding":7}}},
"layer":[{"data":{"name":"grid"},"mark":{"type":"rect","width":12,"height":13,"clip":true},"encoding":{"fill":{"field":"f","type":"quantitative","legend":null,"scale":{"domain":[-0.02,0.13,0.29,0.415,0.54,0.665,0.79,0.915,1.04],"range":["#00007f","#0000ff","#007fff","#00ffff","#7fff7f","#ffff00","#ff7f00","#ff0000","#7f0000"]}}}},
{"data":{"name":"eb"},"mark":{"type":"line","stroke":"#20d0f0","strokeWidth":14,"opacity":0.25,"interpolate":"catmull-rom","clip":true},"encoding":{"detail":{"field":"s"},"order":{"value":null}}},
{"data":{"name":"eb"},"mark":{"type":"line","stroke":"#18e0f0","strokeWidth":5,"opacity":0.7,"interpolate":"catmull-rom","clip":true},"encoding":{"detail":{"field":"s"},"order":{"value":null}}},
{"data":{"name":"er"},"mark":{"type":"line","stroke":"#20e6f0","strokeWidth":8,"opacity":0.8,"interpolate":"catmull-rom","clip":true},"encoding":{"detail":{"field":"s"},"order":{"value":null}}},
{"data":{"name":"ed"},"mark":{"type":"line","stroke":"#000090","strokeWidth":3,"opacity":0.85,"interpolate":"catmull-rom","clip":true},"encoding":{"detail":{"field":"s"},"order":{"value":null}}},
{"data":{"name":"er"},"mark":{"type":"line","stroke":"#c8f04a","strokeWidth":1.8,"interpolate":"catmull-rom","clip":true},"encoding":{"detail":{"field":"s"},"order":{"value":null}}},
{"data":{"values":[{"x":-2.25,"y":-2.04,"t":"e)"}]},"mark":{"type":"text","align":"left","baseline":"middle","font":"Liberation Serif","fontSize":26},"encoding":{"text":{"field":"t"}}}]},
{"width":270,"height":196,"encoding":{"x":{"field":"x","type":"quantitative","title":"x","scale":{"domain":[-1.5,1.5],"range":[3,270]},"axis":{"values":[-1,0,1],"domain":false,"ticks":false,"labelPadding":12,"labelFontSize":14,"labelExpr":"replace(datum.label,'−','-')","titlePadding":3}},"y":{"field":"y","type":"quantitative","title":"y","scale":{"domain":[-1.5,1.5],"range":[196,0]},"axis":{"values":[-1,0,1],"domain":false,"ticks":false,"labelPadding":5,"labelFontSize":14,"labelExpr":"replace(datum.label,'−','-')","titlePadding":6}}},
"layer":[{"data":{"name":"grid"},"mark":{"type":"rect","width":12,"height":13,"clip":true},"encoding":{"fill":{"field":"f","type":"quantitative","legend":null,"scale":{"domain":[-0.03,0.115,0.27,0.395,0.52,0.645,0.77,0.895,1.02],"range":["#00007f","#0000ff","#007fff","#00ffff","#7fff7f","#ffff00","#ff7f00","#ff0000","#7f0000"]}}}},
{"data":{"name":"hb"},"mark":{"type":"line","stroke":"#20d0f0","strokeWidth":14,"opacity":0.25,"interpolate":"catmull-rom","clip":true},"encoding":{"detail":{"field":"s"},"order":{"value":null}}},
{"data":{"name":"hb"},"mark":{"type":"line","stroke":"#18e0f0","strokeWidth":5,"opacity":0.7,"interpolate":"catmull-rom","clip":true},"encoding":{"detail":{"field":"s"},"order":{"value":null}}},
{"data":{"name":"hr"},"mark":{"type":"line","stroke":"#20e6f0","strokeWidth":8,"opacity":0.8,"interpolate":"catmull-rom","clip":true},"encoding":{"detail":{"field":"s"},"order":{"value":null}}},
{"data":{"name":"hd"},"mark":{"type":"line","stroke":"#000090","strokeWidth":3,"opacity":0.85,"interpolate":"catmull-rom","clip":true},"encoding":{"detail":{"field":"s"},"order":{"value":null}}},
{"data":{"name":"hr"},"mark":{"type":"line","stroke":"#c8f04a","strokeWidth":1.8,"interpolate":"catmull-rom","clip":true},"encoding":{"detail":{"field":"s"},"order":{"value":null}}},
{"data":{"values":[{"x":-2.3,"y":-2.02,"t":"h)"}]},"mark":{"type":"text","align":"left","baseline":"middle","font":"Liberation Serif","fontSize":26},"encoding":{"text":{"field":"t"}}}]}
],"bounds":"flush","spacing":89},
{"vconcat":[
{"width":268,"height":211,"encoding":{"x":{"field":"x","type":"quantitative","title":null,"scale":{"domain":[-1.5,1.5],"range":[1,268]},"axis":{"values":[-1.5,-1,-0.5,0,0.5,1,1.5],"format":"~g","domain":false,"ticks":false,"labelPadding":2,"labelFontSize":8,"labelColor":"#555","labelExpr":"replace(datum.label,'−','-')"}},"y":{"field":"y","type":"quantitative","title":null,"scale":{"domain":[-1.5,1.5],"range":[211,0]},"axis":{"values":[-1.5,-1,-0.5,0,0.5,1,1.5],"format":"~g","domain":false,"ticks":false,"labelPadding":2,"labelFontSize":8,"labelColor":"#555","labelExpr":"replace(datum.label,'−','-')"}}},
"layer":[{"data":{"name":"grid"},"mark":{"type":"rect","width":12,"height":14,"clip":true},"encoding":{"fill":{"field":"h","type":"quantitative","legend":null,"scale":{"domain":[-0.5,-0.3,-0.1,0.1,0.3,0.5,0.66,0.83,1.02],"range":["#00007f","#0000ff","#007fff","#00ffff","#7fff7f","#ffff00","#ff7f00","#ff0000","#7f0000"]}}}},
{"data":{"name":"eight"},"mark":{"type":"line","stroke":"#0040d0","strokeWidth":2.2,"opacity":0.7,"interpolate":"catmull-rom"},"encoding":{"order":{"value":null}}},
{"data":{"values":[{"x":-2.275,"y":-1.74,"t":"c)"}]},"mark":{"type":"text","align":"left","baseline":"middle","font":"Liberation Serif","fontSize":26},"encoding":{"text":{"field":"t"}}}]},
{"width":268,"height":195,"encoding":{"x":{"field":"x","type":"quantitative","title":"x","scale":{"domain":[-1.5,1.5],"range":[-3,268]},"axis":{"values":[-1,0,1],"domain":false,"ticks":false,"labelPadding":12,"labelFontSize":14,"labelExpr":"replace(datum.label,'−','-')","titlePadding":3}},"y":{"field":"y","type":"quantitative","title":"y","scale":{"domain":[-1.5,1.5],"range":[195,0]},"axis":{"values":[-1,0,1],"domain":false,"ticks":false,"labelPadding":5,"labelFontSize":14,"labelExpr":"replace(datum.label,'−','-')","titlePadding":2}}},
"layer":[{"data":{"name":"grid"},"mark":{"type":"rect","width":12,"height":13},"encoding":{"fill":{"field":"h","type":"quantitative","legend":null,"scale":{"domain":[-0.5,-0.27,-0.06,0.16,0.36,0.58,0.8,1.02,1.3],"range":["#00007f","#0000ff","#007fff","#00ffff","#7fff7f","#ffff00","#ff7f00","#ff0000","#7f0000"]}}}},
{"data":{"name":"dr"},"mark":{"type":"line","stroke":"#0040c0","strokeWidth":1.3,"opacity":0.35,"interpolate":"catmull-rom"},"encoding":{"order":{"value":null}}},
{"data":{"name":"db"},"mark":{"type":"line","stroke":"#0040c0","strokeWidth":1.3,"opacity":0.35,"interpolate":"catmull-rom"},"encoding":{"order":{"value":null}}},
{"data":{"values":[{"x":-1.965,"y":-2,"t":"f)"}]},"mark":{"type":"text","align":"left","baseline":"middle","font":"Liberation Serif","fontSize":26},"encoding":{"text":{"field":"t"}}}]},
{"width":268,"height":210,"encoding":{"x":{"field":"x","type":"quantitative","title":"x","scale":{"domain":[-1.5,1.5],"range":[-3,268]},"axis":{"values":[-1,0,1],"domain":false,"ticks":false,"labelPadding":12,"labelFontSize":14,"labelExpr":"replace(datum.label,'−','-')","titlePadding":3}},"y":{"field":"y","type":"quantitative","title":"y","scale":{"domain":[-1.5,1.5],"range":[210,16]},"axis":{"values":[-1,0,1],"domain":false,"ticks":false,"labelPadding":5,"labelFontSize":14,"labelExpr":"replace(datum.label,'−','-')","titlePadding":2}}},
"layer":[{"data":{"name":"grid"},"mark":{"type":"rect","width":12,"height":13},"encoding":{"fill":{"field":"h","type":"quantitative","legend":null,"scale":{"domain":[-0.5,-0.3,-0.1,0.1,0.3,0.5,0.66,0.83,1.02],"range":["#00007f","#0000ff","#007fff","#00ffff","#7fff7f","#ffff00","#ff7f00","#ff0000","#7f0000"]}}}},
{"data":{"name":"gr"},"mark":{"type":"line","stroke":"#0040c0","strokeWidth":1.3,"opacity":0.35,"interpolate":"catmull-rom"},"encoding":{"order":{"value":null}}},
{"data":{"name":"gb"},"mark":{"type":"line","stroke":"#0040c0","strokeWidth":1.3,"opacity":0.35,"interpolate":"catmull-rom"},"encoding":{"order":{"value":null}}},
{"data":{"values":[{"x":-1.965,"y":-2.03,"t":"i)"}]},"mark":{"type":"text","align":"left","baseline":"middle","font":"Liberation Serif","fontSize":26},"encoding":{"text":{"field":"t"}}}]}
],"bounds":"flush","spacing":74}
],"bounds":"flush","spacing":376,"resolve":{"scale":{"x":"independent","y":"independent","fill":"independent"}}}
